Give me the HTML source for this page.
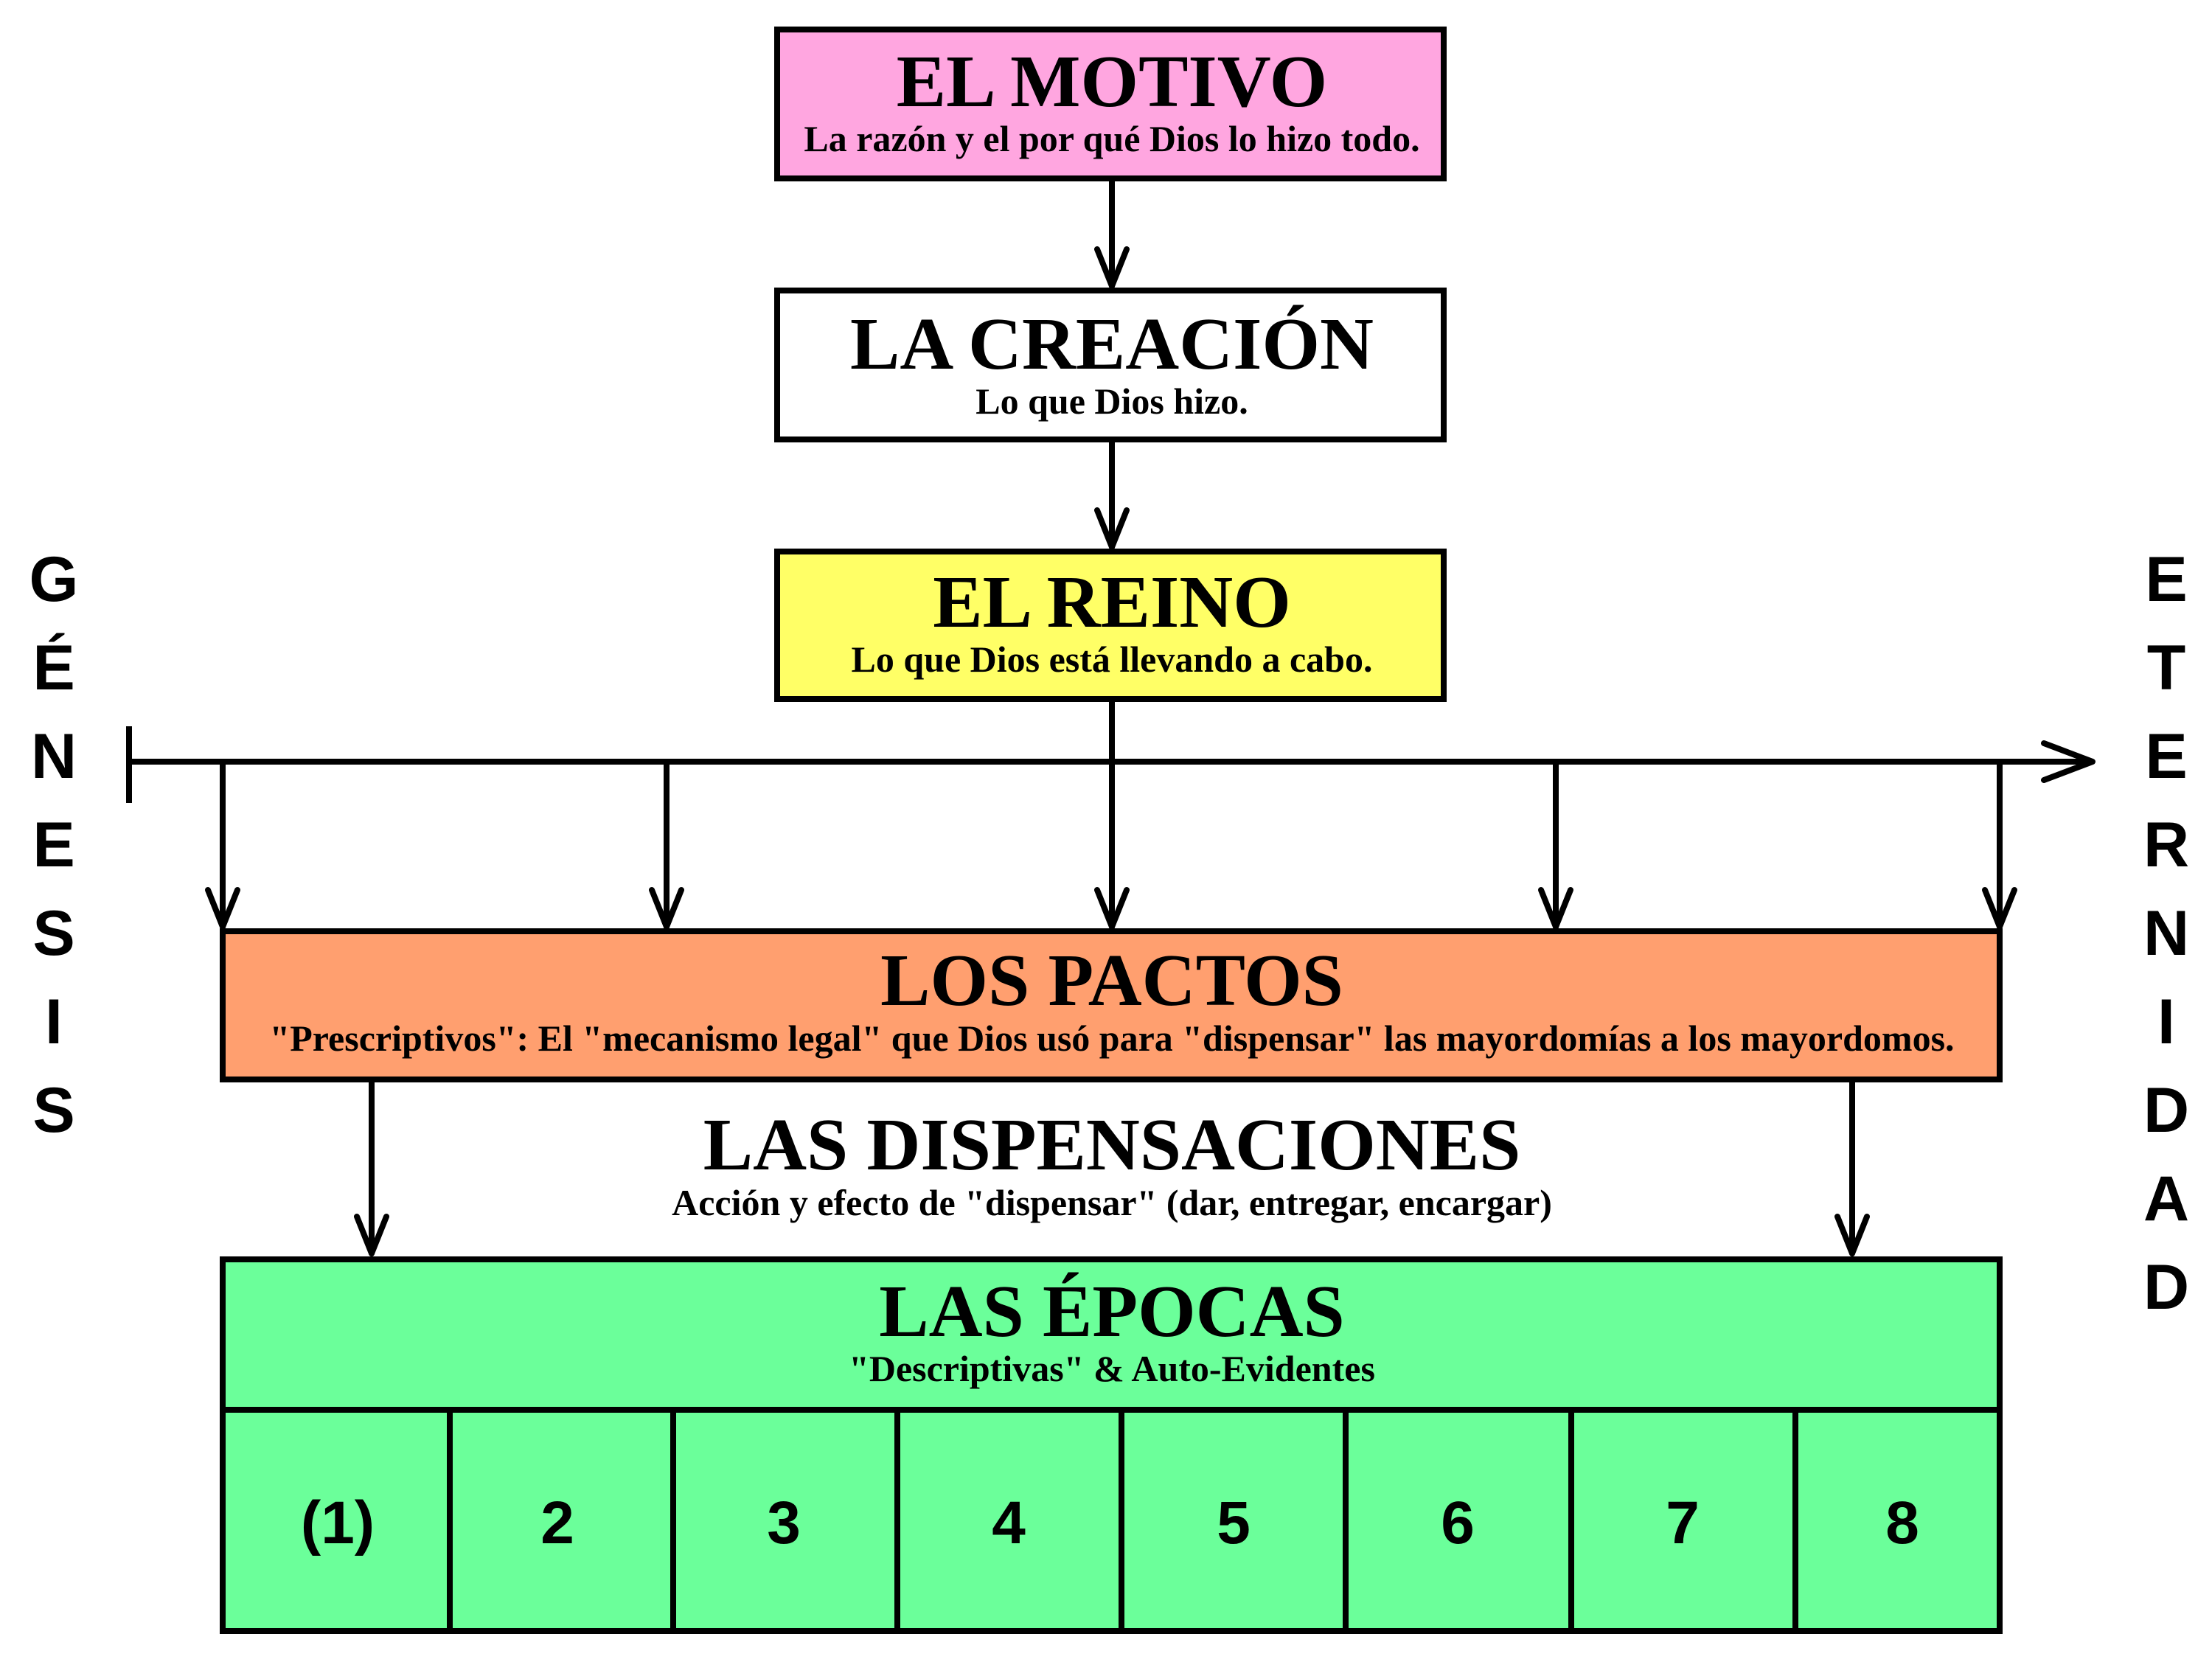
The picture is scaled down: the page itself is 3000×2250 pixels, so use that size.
<!DOCTYPE html>
<html><head><meta charset="utf-8"><style>html,body{margin:0;padding:0;background:#fff}svg{display:block}</style></head>
<body>
<svg width="3000" height="2250" viewBox="0 0 3000 2250" xmlns="http://www.w3.org/2000/svg">
<g stroke="#000" stroke-width="8">
<rect x="1054" y="40" width="904" height="202" fill="#ffa6e0"/>
<rect x="1054" y="394" width="904" height="202" fill="#fff"/>
<rect x="1054" y="748" width="904" height="200" fill="#ffff66"/>
<rect x="302" y="1263" width="2410" height="201" fill="#ff9f6f"/>
<rect x="302" y="1708" width="2410" height="504" fill="#6bff9a"/>
<line x1="302" y1="1912" x2="2712" y2="1912"/>
<line x1="610" y1="1912" x2="610" y2="2212"/>
<line x1="913" y1="1912" x2="913" y2="2212"/>
<line x1="1217" y1="1912" x2="1217" y2="2212"/>
<line x1="1521" y1="1912" x2="1521" y2="2212"/>
<line x1="1825" y1="1912" x2="1825" y2="2212"/>
<line x1="2131" y1="1912" x2="2131" y2="2212"/>
<line x1="2435" y1="1912" x2="2435" y2="2212"/>
<line x1="175" y1="1033" x2="2838" y2="1033"/>
<line x1="175" y1="985" x2="175" y2="1089"/>
</g>
<g stroke="#000" stroke-width="8" fill="none" stroke-linecap="round" stroke-linejoin="round">
<line x1="1508" y1="242" x2="1508" y2="388"/><polyline points="1488,338 1508,388 1528,338"/>
<line x1="1508" y1="596" x2="1508" y2="742"/><polyline points="1488,692 1508,742 1528,692"/>
<line x1="1508" y1="948" x2="1508" y2="1257"/><polyline points="1488,1207 1508,1257 1528,1207"/>
<line x1="302" y1="1033" x2="302" y2="1257"/><polyline points="282,1207 302,1257 322,1207"/>
<line x1="904" y1="1033" x2="904" y2="1257"/><polyline points="884,1207 904,1257 924,1207"/>
<line x1="2110" y1="1033" x2="2110" y2="1257"/><polyline points="2090,1207 2110,1257 2130,1207"/>
<line x1="2712" y1="1033" x2="2712" y2="1257"/><polyline points="2692,1207 2712,1257 2732,1207"/>
<polyline points="2772,1008 2838,1033 2772,1058"/>
<line x1="504" y1="1468" x2="504" y2="1700"/><polyline points="484,1650 504,1700 524,1650"/>
<line x1="2512" y1="1468" x2="2512" y2="1700"/><polyline points="2492,1650 2512,1700 2532,1650"/>
</g>
<g font-family="Liberation Serif, serif" font-weight="bold" text-anchor="middle" fill="#000">
<text x="1508" y="144" font-size="101">EL MOTIVO</text>
<text x="1508" y="205" font-size="50">La razón y el por qué Dios lo hizo todo.</text>
<text x="1508" y="500" font-size="101">LA CREACIÓN</text>
<text x="1508" y="561" font-size="50">Lo que Dios hizo.</text>
<text x="1508" y="850" font-size="101">EL REINO</text>
<text x="1508" y="911" font-size="50">Lo que Dios está llevando a cabo.</text>
<text x="1508" y="1363" font-size="101">LOS PACTOS</text>
<text x="1508" y="1425" font-size="50">"Prescriptivos": El "mecanismo legal" que Dios usó para "dispensar" las mayordomías a los mayordomos.</text>
<text x="1508" y="1586" font-size="101">LAS DISPENSACIONES</text>
<text x="1508" y="1648" font-size="50">Acción y efecto de "dispensar" (dar, entregar, encargar)</text>
<text x="1508" y="1812" font-size="101">LAS ÉPOCAS</text>
<text x="1508" y="1873" font-size="50">"Descriptivas" &amp; Auto-Evidentes</text>
</g>
<g font-family="Liberation Sans, sans-serif" font-weight="bold" text-anchor="middle" font-size="82" fill="#000">
<text x="458" y="2093">(1)</text><text x="756" y="2093">2</text><text x="1063" y="2093">3</text><text x="1368" y="2093">4</text><text x="1673" y="2093">5</text><text x="1977" y="2093">6</text><text x="2282" y="2093">7</text><text x="2580" y="2093">8</text>
</g>
<g font-family="Liberation Sans, sans-serif" font-weight="bold" text-anchor="middle" font-size="86" fill="#000">
<text x="73" y="815">G</text><text x="73" y="935">É</text><text x="73" y="1055">N</text><text x="73" y="1175">E</text><text x="73" y="1295">S</text><text x="73" y="1415">I</text><text x="73" y="1535">S</text>
<text x="2938" y="815">E</text><text x="2938" y="935">T</text><text x="2938" y="1055">E</text><text x="2938" y="1175">R</text><text x="2938" y="1295">N</text><text x="2938" y="1415">I</text><text x="2938" y="1535">D</text><text x="2938" y="1655">A</text><text x="2938" y="1775">D</text>
</g>
</svg>
</body></html>
